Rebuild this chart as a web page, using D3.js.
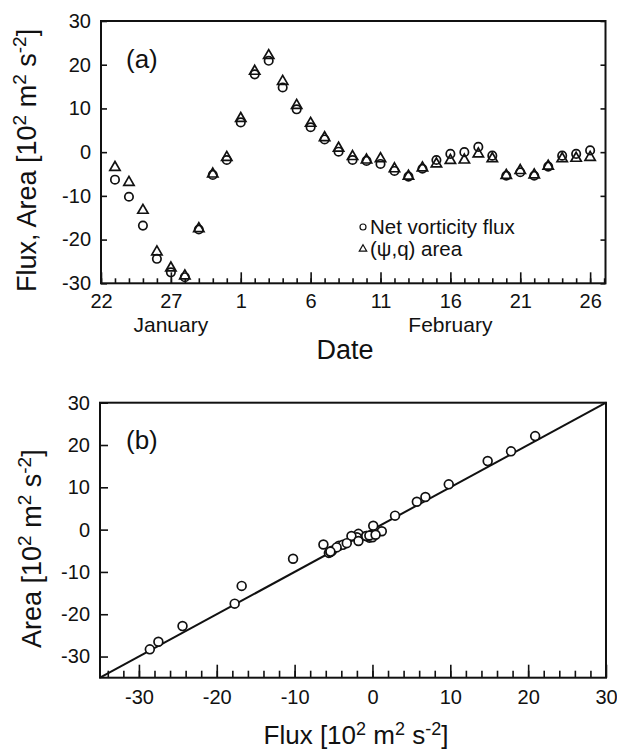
<!DOCTYPE html>
<html>
<head>
<meta charset="utf-8">
<script src="https://cdn.jsdelivr.net/npm/d3@7"></script>
<style>
body { margin: 0; background: #fff; }
text { font-family: "Liberation Sans", Arial, Helvetica, sans-serif; fill: #111; }
</style>
</head>
<body>
<div id="chart"></div>
<script>
// days after 22 January (one point per day, 23 Jan .. 26 Feb)
const dayOffset = [1, 2, 3, 4, 5, 6, 7, 8, 9, 10, 11, 12, 13, 14, 15, 16, 17, 18,
  19, 20, 21, 22, 23, 24, 25, 26, 27, 28, 29, 30, 31, 32, 33, 34, 35];
const netFlux = [-6.3, -10.2, -16.8, -24.4, -27.5, -28.6, -17.7, -5.2, -1.8, 6.8,
  17.8, 20.9, 14.8, 9.8, 5.7, 2.9, 0.1, -1.8, -2.0, -2.7, -4.3, -5.6, -3.8, -1.8,
  -0.4, 0.0, 1.2, -0.8, -5.4, -4.6, -5.4, -3.3, -0.8, -0.4, 0.4];
const psiQArea = [-3.5, -6.9, -13.3, -22.8, -26.5, -28.3, -17.5, -5.0, -1.2, 7.7,
  18.5, 22.1, 16.2, 10.7, 6.6, 3.3, 0.9, -1.0, -1.8, -1.5, -3.8, -5.5, -3.6, -2.7,
  -1.9, -1.8, -0.4, -1.5, -5.3, -4.2, -5.2, -3.2, -1.5, -1.4, -1.2];

const dateTicks = [0, 5, 10, 15, 20, 25, 30, 35];
const dateTickLabels = ["22", "27", "1", "6", "11", "16", "21", "26"];
const monthNames = ["January", "February"];
const monthCentre = [5, 25];
const legendNames = ["Net vorticity flux", "(\u03C8,q) area"];

const valueTicks = [-30, -20, -10, 0, 10, 20, 30];
const fitSlope = 1.0, fitIntercept = 0.0;

const W = 617, H = 753;
const svg = d3.select("#chart").append("svg")
  .attr("width", W).attr("height", H);

const plain = d => String(d);   // hyphen minus, like the original

// little helper for the "[10^2 m^2 s^-2]" units
function units(t, prefix, fs) {
  const up = Math.round(fs * 0.36), small = Math.round(fs * 0.7);
  t.append("tspan").text(prefix + "[10");
  t.append("tspan").attr("dy", -up).attr("font-size", small).text("2");
  t.append("tspan").attr("dy", up).text(" m");
  t.append("tspan").attr("dy", -up).attr("font-size", small).text("2");
  t.append("tspan").attr("dy", up).text(" s");
  t.append("tspan").attr("dy", -up).attr("font-size", small).text("-2");
  t.append("tspan").attr("dy", up).text("]");
}

function styleAxis(g) {
  g.select(".domain").remove();
  g.selectAll(".tick line").attr("stroke", "#111").attr("stroke-width", 1.6);
}

// ---------------- panel (a) ----------------
const xa = d3.scaleLinear().domain([0, 36.1]).range([101, 605.5]);
const ya = d3.scaleLinear().domain([-30, 30]).range([283.3, 21]);

const ga = svg.append("g");

// minor day ticks
ga.append("g")
  .attr("transform", `translate(0,${ya(-30)})`)
  .call(d3.axisBottom(xa).tickValues(d3.range(0, 37)).tickSize(-5).tickFormat(""))
  .call(styleAxis);
// major ticks with labels
ga.append("g")
  .attr("transform", `translate(0,${ya(-30)})`)
  .call(d3.axisBottom(xa).tickValues(dateTicks).tickSize(-11).tickPadding(11)
    .tickFormat((d, i) => dateTickLabels[i]))
  .call(styleAxis)
  .selectAll("text").attr("font-size", 20);

ga.append("g")
  .attr("transform", `translate(${xa.range()[0]},0)`)
  .call(d3.axisLeft(ya).tickValues(valueTicks).tickSize(-6).tickPadding(10).tickFormat(plain))
  .call(styleAxis)
  .selectAll("text").attr("font-size", 20);

ga.append("g")
  .attr("transform", `translate(${xa.range()[1]},0)`)
  .call(d3.axisRight(ya).tickValues(valueTicks).tickSize(-5).tickFormat(""))
  .call(styleAxis);

ga.append("rect")
  .attr("x", xa.range()[0]).attr("y", ya.range()[1])
  .attr("width", xa.range()[1] - xa.range()[0])
  .attr("height", ya.range()[0] - ya.range()[1])
  .attr("fill", "none").attr("stroke", "#111").attr("stroke-width", 2);

ga.selectAll(".flux")
  .data(dayOffset)
  .join("circle")
    .attr("class", "flux")
    .attr("cx", d => xa(d))
    .attr("cy", (d, i) => ya(netFlux[i]))
    .attr("r", 4.2)
    .attr("fill", "none").attr("stroke", "#111").attr("stroke-width", 1.7);

const tri = d3.symbol().type(d3.symbolTriangle).size(46);
ga.selectAll(".area")
  .data(dayOffset)
  .join("path")
    .attr("class", "area")
    .attr("d", tri)
    .attr("transform", (d, i) => `translate(${xa(d)},${ya(psiQArea[i])})`)
    .attr("fill", "none").attr("stroke", "#111").attr("stroke-width", 1.7);

ga.append("text").attr("x", 126).attr("y", 68).attr("font-size", 26).text("(a)");

// legend
const leg = ga.append("g");
leg.append("circle").attr("cx", 363).attr("cy", 227).attr("r", 3)
  .attr("fill", "none").attr("stroke", "#111").attr("stroke-width", 1.2);
leg.append("path").attr("d", d3.symbol().type(d3.symbolTriangle).size(24))
  .attr("transform", "translate(363,249)")
  .attr("fill", "none").attr("stroke", "#111").attr("stroke-width", 1.2);
leg.selectAll("text")
  .data(legendNames)
  .join("text")
    .attr("x", 370)
    .attr("y", (d, i) => 234 + i * 22)
    .attr("font-size", 20.5)
    .text(d => d);

ga.selectAll(".month")
  .data(monthNames)
  .join("text")
    .attr("class", "month")
    .attr("x", (d, i) => xa(monthCentre[i]))
    .attr("y", 332)
    .attr("text-anchor", "middle")
    .attr("font-size", 21)
    .text(d => d);

ga.append("text").attr("x", 345).attr("y", 359)
  .attr("text-anchor", "middle").attr("font-size", 27).text("Date");

units(ga.append("text")
  .attr("transform", "translate(36,292) rotate(-90)")
  .attr("font-size", 27), "Flux, Area ", 27);

// ---------------- panel (b) ----------------
const xb = d3.scaleLinear().domain([-35, 30]).range([100, 606]);
const yb = d3.scaleLinear().domain([-35, 30]).range([677.7, 402.7]);

const gb = svg.append("g");

gb.append("g")
  .attr("transform", `translate(0,${yb(-35)})`)
  .call(d3.axisBottom(xb).tickValues(d3.range(-34, 30, 2)).tickSize(-7).tickFormat(""))
  .call(styleAxis);
gb.append("g")
  .attr("transform", `translate(0,${yb(-35)})`)
  .call(d3.axisBottom(xb).tickValues(valueTicks).tickSize(-13).tickPadding(12).tickFormat(plain))
  .call(styleAxis)
  .selectAll("text").attr("font-size", 20);

gb.append("g")
  .attr("transform", `translate(${xb(-35)},0)`)
  .call(d3.axisLeft(yb).tickValues(valueTicks).tickSize(-8).tickPadding(10).tickFormat(plain))
  .call(styleAxis)
  .selectAll("text").attr("font-size", 20);

gb.append("rect")
  .attr("x", xb.range()[0]).attr("y", yb.range()[1])
  .attr("width", xb.range()[1] - xb.range()[0])
  .attr("height", yb.range()[0] - yb.range()[1])
  .attr("fill", "none").attr("stroke", "#111").attr("stroke-width", 2);

const fitEnds = xb.domain();
gb.append("line")
  .attr("x1", xb(fitEnds[0])).attr("y1", yb(fitSlope * fitEnds[0] + fitIntercept))
  .attr("x2", xb(fitEnds[1])).attr("y2", yb(fitSlope * fitEnds[1] + fitIntercept))
  .attr("stroke", "#111").attr("stroke-width", 2);

gb.selectAll(".pt")
  .data(netFlux)
  .join("circle")
    .attr("class", "pt")
    .attr("cx", d => xb(d))
    .attr("cy", (d, i) => yb(psiQArea[i]))
    .attr("r", 4.4)
    .attr("fill", "#fff").attr("stroke", "#111").attr("stroke-width", 1.7);

gb.append("text").attr("x", 126).attr("y", 449).attr("font-size", 26).text("(b)");

units(gb.append("text")
  .attr("x", 356).attr("y", 744)
  .attr("text-anchor", "middle").attr("font-size", 26), "Flux ", 26);

units(gb.append("text")
  .attr("transform", "translate(41,648) rotate(-90)")
  .attr("font-size", 27), "Area ", 27);
</script>
</body>
</html>
